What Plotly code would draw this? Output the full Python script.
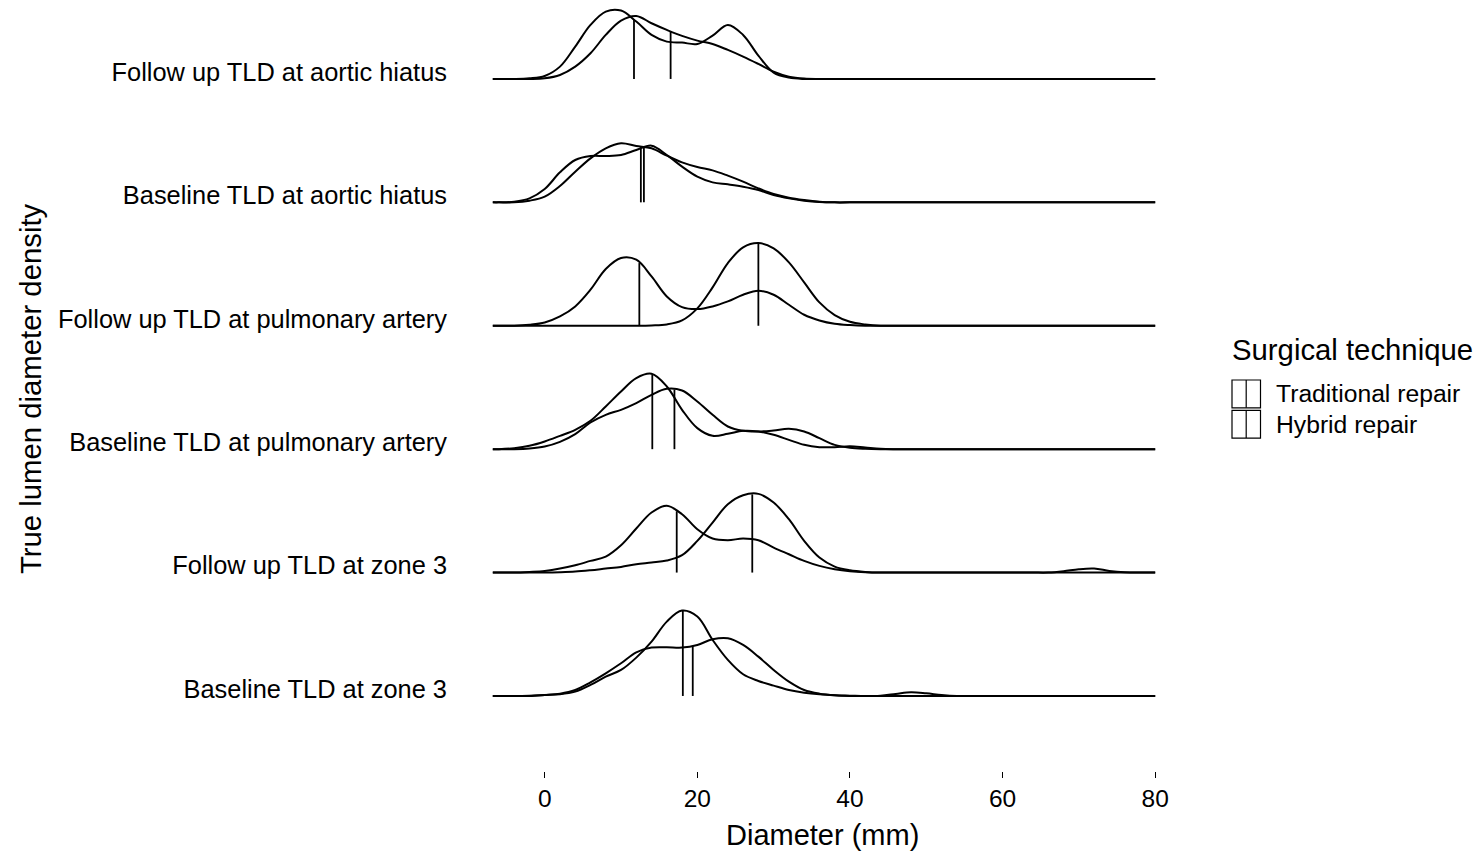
import numpy as np
import plotly.graph_objects as go

# ---------------- data ----------------
row_labels = [
    "Baseline TLD at zone 3",
    "Follow up TLD at zone 3",
    "Baseline TLD at pulmonary artery",
    "Follow up TLD at pulmonary artery",
    "Baseline TLD at aortic hiatus",
    "Follow up TLD at aortic hiatus",
]

diameter_mm = [-6.8, -6, -4, -2, 0, 2, 4, 6, 8, 10, 12, 14, 16, 18, 20, 22, 24, 26, 28, 30,
               32, 34, 36, 38, 40, 42, 44, 46, 48, 50, 52, 54, 56, 58, 60, 62, 64, 66, 68,
               70, 72, 74, 76, 78, 80]

# relative density heights (same arbitrary unit for all curves)
trad_zone3_base = [0, 0, 0, 1, 3, 5, 13, 33, 58, 78, 115, 163, 223, 256, 238, 168, 108, 65, 45, 31,
                   18, 10, 5, 2, 1, 0, 1, 6, 11, 8, 3, 0, 0, 0, 0, 0, 0, 0, 0,
                   0, 0, 0, 0, 0, 0]
hyb_zone3_base = [0, 0, 0, 0, 3, 7, 18, 41, 68, 98, 131, 145, 146, 145, 153, 170, 173, 153, 118, 78,
                  43, 18, 7, 2, 0, 0, 0, 0, 0, 0, 0, 0, 0, 0, 0, 0, 0, 0, 0,
                  0, 0, 0, 0, 0, 0]
trad_zone3_fu = [0, 0, 0, 2, 5, 12, 22, 35, 48, 82, 132, 180, 200, 175, 130, 102, 97, 102, 97, 75,
                 55, 35, 20, 10, 4, 1, 0, 0, 0, 0, 0, 0, 0, 0, 0, 0, 0, 0, 0,
                 0, 0, 0, 0, 0, 0]
hyb_zone3_fu = [0, 0, 0, 0, 0, 1, 3, 7, 12, 17, 25, 30, 36, 52, 95, 150, 205, 232, 236, 210,
                160, 95, 45, 18, 7, 2, 0, 0, 0, 0, 0, 0, 0, 0, 0, 0, 0, 0, 4,
                10, 12, 5, 1, 0, 0]
trad_pa_base = [0, 0, 3, 10, 23, 40, 58, 85, 128, 173, 213, 226, 188, 118, 63, 40, 46, 55, 53, 43,
                28, 13, 6, 6, 9, 5, 1, 0, 0, 0, 0, 0, 0, 0, 0, 0, 0, 0, 0,
                0, 0, 0, 0, 0, 0]
hyb_pa_base = [0, 0, 0, 2, 8, 22, 45, 80, 103, 118, 138, 163, 181, 176, 143, 103, 68, 55, 53, 56,
               61, 53, 33, 13, 4, 1, 0, 0, 0, 0, 0, 0, 0, 0, 0, 0, 0, 0, 0,
               0, 0, 0, 0, 0, 0]
trad_pa_fu = [0, 0, 0, 3, 10, 28, 58, 108, 170, 203, 198, 148, 88, 56, 50, 58, 73, 93, 105, 93,
              63, 33, 16, 6, 2, 0, 0, 0, 0, 0, 0, 0, 0, 0, 0, 0, 0, 0, 0,
              0, 0, 0, 0, 0, 0]
hyb_pa_fu = [0, 0, 0, 0, 0, 0, 0, 0, 0, 0, 0, 1, 4, 16, 52, 115, 188, 235, 248, 232,
             190, 130, 70, 32, 12, 4, 0, 0, 0, 0, 0, 0, 0, 0, 0, 0, 0, 0, 0,
             0, 0, 0, 0, 0, 0]
trad_ah_base = [0, 0, 2, 12, 40, 90, 127, 139, 139, 142, 157, 170, 142, 107, 77, 60, 54, 47, 37, 22,
                12, 5, 1, 0, 0, 0, 0, 0, 0, 0, 0, 0, 0, 0, 0, 0, 0, 0, 0,
                0, 0, 0, 0, 0, 0]
hyb_ah_base = [0, 0, 0, 5, 17, 49, 92, 132, 162, 177, 169, 162, 140, 120, 106, 96, 80, 62, 42, 25,
               14, 7, 2, 0, 0, 0, 0, 0, 0, 0, 0, 0, 0, 0, 0, 0, 0, 0, 0,
               0, 0, 0, 0, 0, 0]
trad_ah_fu = [0, 0, 0, 2, 9, 37, 97, 162, 202, 205, 172, 132, 112, 109, 105, 130, 162, 132, 70, 19,
              4, 0, 0, 0, 0, 0, 0, 0, 0, 0, 0, 0, 0, 0, 0, 0, 0, 0, 0,
              0, 0, 0, 0, 0, 0]
hyb_ah_fu = [0, 0, 0, 0, 2, 12, 37, 77, 132, 175, 189, 167, 147, 129, 115, 105, 87, 67, 45, 22,
             7, 1, 0, 0, 0, 0, 0, 0, 0, 0, 0, 0, 0, 0, 0, 0, 0, 0, 0,
             0, 0, 0, 0, 0, 0]

# medians (mm), bottom row first
trad_medians = [18.1, 17.3, 14.1, 12.4, 13.0, 11.7]
hyb_medians = [19.4, 27.2, 17.0, 28.0, 12.6, 16.5]

x_ticks = [0, 20, 40, 60, 80]
legend_labels = ["Traditional repair", "Hybrid repair"]

# ---------------- figure ----------------
trad_rows = [trad_zone3_base, trad_zone3_fu, trad_pa_base, trad_pa_fu, trad_ah_base, trad_ah_fu]
hyb_rows = [hyb_zone3_base, hyb_zone3_fu, hyb_pa_base, hyb_pa_fu, hyb_ah_base, hyb_ah_fu]

HEIGHT_SCALE = 1.0 / 370.0
FONT = "Liberation Sans, Arial, Helvetica, sans-serif"

fig = go.Figure()
xs = np.array(diameter_mm, dtype=float)
for i in range(len(row_labels)):
    for dens, med in ((trad_rows[i], trad_medians[i]), (hyb_rows[i], hyb_medians[i])):
        d = np.array(dens, dtype=float) * HEIGHT_SCALE
        fig.add_trace(go.Scatter(
            x=xs, y=i + d, mode="lines",
            line=dict(color="black", width=2, shape="spline", smoothing=1.0),
            hoverinfo="skip", showlegend=False))
        top = float(np.interp(med, xs, d))
        fig.add_trace(go.Scatter(
            x=[med, med], y=[i, i + top], mode="lines",
            line=dict(color="black", width=1.8),
            hoverinfo="skip", showlegend=False))

# page is rendered with an 8px body margin: work in screenshot pixels and subtract it
PAGE_OFF = 8
FIG_W, FIG_H = 1481 - PAGE_OFF, 853 - PAGE_OFF
SL, SR, ST, SB = 460, 1188, 8, 771          # plot area in screenshot pixels


def px_x(p):
    return (p - SL) / (SR - SL)


def px_y(p):
    return (SB - p) / (SB - ST)


shapes = []
annotations = []
box_tops = [380, 410.3]
for k, lab in enumerate(legend_labels):
    y0 = box_tops[k]
    y1 = y0 + 27.8
    shapes.append(dict(type="rect", xref="paper", yref="paper",
                       x0=px_x(1232), x1=px_x(1260.5), y0=px_y(y1), y1=px_y(y0),
                       line=dict(color="black", width=1.2), fillcolor="rgba(0,0,0,0)"))
    shapes.append(dict(type="line", xref="paper", yref="paper",
                       x0=px_x(1246.2), x1=px_x(1246.2), y0=px_y(y1), y1=px_y(y0),
                       line=dict(color="black", width=1.2)))
    annotations.append(dict(text=lab, xref="paper", yref="paper",
                            x=px_x(1274), y=px_y((y0 + y1) / 2), xanchor="left", yanchor="middle",
                            showarrow=False, font=dict(size=24.7, color="black", family=FONT)))

annotations.append(dict(text="Surgical technique", xref="paper", yref="paper",
                        x=px_x(1229.5), y=px_y(350), xanchor="left", yanchor="middle",
                        showarrow=False, font=dict(size=29.3, color="black", family=FONT)))
annotations.append(dict(text="Diameter (mm)", xref="paper", yref="paper",
                        x=px_x(822.5), y=px_y(835), xanchor="center", yanchor="middle",
                        showarrow=False, font=dict(size=29, color="black", family=FONT)))
annotations.append(dict(text="True lumen diameter density", xref="paper", yref="paper",
                        x=px_x(30), y=px_y(389), xanchor="center", yanchor="middle",
                        textangle=-90, showarrow=False,
                        font=dict(size=29.3, color="black", family=FONT)))

label_offset = 0.057
fig.update_layout(
    width=FIG_W, height=FIG_H,
    margin=dict(l=SL - PAGE_OFF, r=FIG_W - (SR - PAGE_OFF), t=ST - PAGE_OFF,
                b=FIG_H - (SB - PAGE_OFF), autoexpand=False),
    paper_bgcolor="white", plot_bgcolor="white",
    showlegend=False,
    font=dict(family=FONT, color="black"),
    shapes=shapes, annotations=annotations,
    xaxis=dict(range=[-11.1, 84.3], tickvals=x_ticks, ticktext=[str(t) for t in x_ticks],
               ticks="outside", ticklen=6, tickwidth=1.3, tickcolor="black",
               showgrid=False, zeroline=False, showline=False,
               tickfont=dict(size=24.5, color="black", family=FONT)),
    yaxis=dict(range=[-0.608, 5.575],
               tickvals=[i + label_offset for i in range(len(row_labels))],
               ticktext=row_labels, ticks="", ticklabelstandoff=12,
               showgrid=False, zeroline=False, showline=False,
               tickfont=dict(size=25.4, color="black", family=FONT)),
)

fig.write_html("out.html")
